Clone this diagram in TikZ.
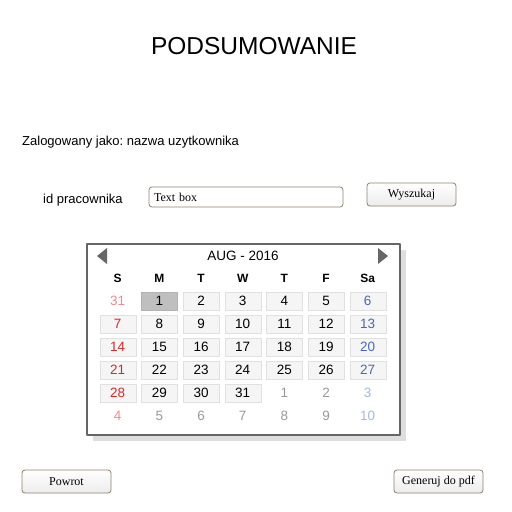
\documentclass[tikz,border=0pt]{standalone}
\usepackage{fontspec}
\setmainfont{Liberation Sans}
\newfontfamily\btnfont{Liberation Serif}
\usetikzlibrary{positioning}
\frenchspacing
\definecolor{frame}{HTML}{666666}
\definecolor{shadowgray}{HTML}{DEDEDE}
\definecolor{cellbg}{HTML}{F5F5F5}
\definecolor{cellline}{HTML}{E0E0E0}
\definecolor{boxline}{HTML}{8E806C}
\definecolor{sunon}{HTML}{D42A2A}
\definecolor{sunoff}{HTML}{F08C8C}
\definecolor{saton}{HTML}{4A66B8}
\definecolor{satoff}{HTML}{A6B8E2}
\definecolor{dayoff}{HTML}{999999}
\tikzset{
  btn/.style={draw=boxline, line width=0.8pt, rounded corners=3pt, top color=white, bottom color=gray!15,
    minimum width=89pt, minimum height=23pt, inner sep=0pt, font=\btnfont\fontsize{12}{12}\selectfont},
  daycell/.style={draw=cellline, fill=cellbg, minimum width=36pt, minimum height=17.5pt, inner sep=0pt},
  daysel/.style={draw=gray!60, fill=gray!50, minimum width=36pt, minimum height=17.5pt, inner sep=0pt},
  dayfree/.style={inner sep=0pt, minimum width=36pt, minimum height=17.5pt},
  dayhead/.style={font=\bfseries\fontsize{12}{12}\selectfont},
}
\begin{document}
\begin{tikzpicture}[x=1pt, y=-1pt, font=\fontsize{13}{13}\selectfont, line join=round]
	\useasboundingbox[fill=white] (0,0) rectangle (512,512);
	% header
	\node (title) at (254,46) {\fontsize{24.5}{25}\selectfont PODSUMOWANIE};
	\node[anchor=west, inner sep=0pt] (login) at (22,142) {Zalogowany jako: nazwa uzytkownika};
	\node[anchor=west, inner sep=0pt] (idlabel) at (43,200) {id pracownika};
	\node[draw=boxline, line width=0.8pt, rounded corners=3pt, minimum width=194pt, minimum height=20pt, inner sep=5pt,
		text width=184pt, font=\btnfont\fontsize{12}{12}\selectfont] (idbox) at (246,197) {Text box};
	\node[btn] (search) at (411.5,194.5) {Wyszukaj};
	% calendar
	\fill[shadowgray] (93,250) rectangle (406,441);
	\draw[frame, line width=2pt, fill=white] (87,244) rectangle (400,435);
	\fill[frame] (97,256) -- (107,248) -- (107,264) -- cycle;
	\fill[frame] (388,256) -- (378,248) -- (378,264) -- cycle;
	\node (month) at (243,256) {\fontsize{13.5}{13.5}\selectfont AUG - 2016};
	\foreach \c/\h in {0/S,1/M,2/T,3/W,4/T,5/F,6/Sa}
		\node[dayhead] (h\c) at ({117.7+41.67*\c},278) {\h};
	\foreach \r in {0,...,5}
		\foreach \c in {0,...,6}{
			\pgfmathtruncatemacro\n{7*\r+\c}
			\ifnum\n<1 \def\d{31}\def\cur{0}\else
				\ifnum\n>31 \pgfmathtruncatemacro\d{\n-31}\def\cur{0}\else
					\let\d\n\def\cur{1}\fi\fi
			\ifnum\c=0 \ifnum\cur=1 \def\col{sunon}\else\def\col{sunoff}\fi
			\else\ifnum\c=6 \ifnum\cur=1 \def\col{saton}\else\def\col{satoff}\fi
			\else\ifnum\cur=1 \def\col{black}\else\def\col{dayoff}\fi\fi\fi
			\ifnum\cur=1 \ifnum\n=1 \def\sty{daysel}\else\def\sty{daycell}\fi
			\else\def\sty{dayfree}\fi
			\node[\sty, text=\col, font=\fontsize{13.5}{13.5}\selectfont] (d\r\c) at ({117.7+41.67*\c},{301+23*\r}) {\d};
		}
	% footer
	\node[btn] (back) at (66.5,481.5) {Powrot};
	\node[btn] (pdf) at (438.5,481.5) {Generuj do pdf};
\end{tikzpicture}
\end{document}
